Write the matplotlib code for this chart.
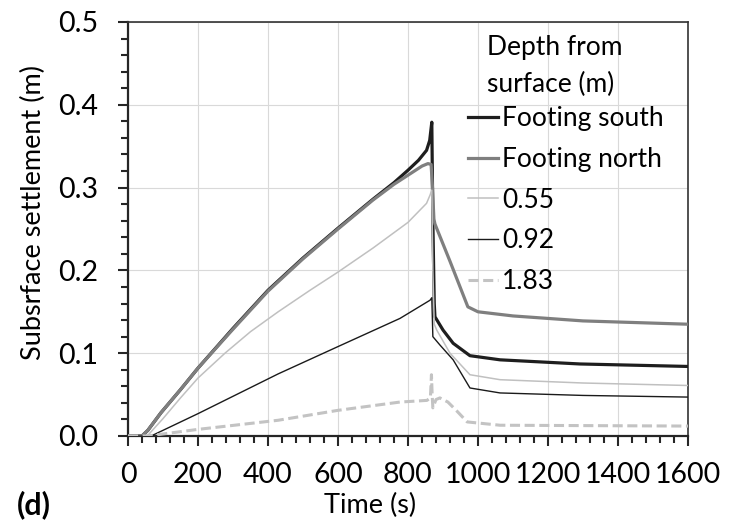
import matplotlib
matplotlib.use("Agg")
import matplotlib.pyplot as plt
from matplotlib.ticker import MultipleLocator

plt.rcParams['font.family'] = ['Lato', 'DejaVu Sans']

# ---- data (time in s, settlement in m) ----
south_t = [0, 40, 57, 94, 150, 200, 300, 400, 500, 600, 700, 760, 800, 830, 853, 862, 868, 871, 875, 877, 900, 929, 977, 1063, 1291, 1600]
south_y = [0, 0, 0.007, 0.028, 0.056, 0.082, 0.130, 0.176, 0.215, 0.251, 0.286, 0.306, 0.321, 0.333, 0.345, 0.357, 0.379, 0.26, 0.16, 0.144, 0.128, 0.112, 0.097, 0.092, 0.087, 0.084]

north_t = [0, 40, 57, 94, 150, 200, 300, 400, 500, 600, 700, 760, 800, 840, 857, 866, 870, 874, 877, 920, 971, 1000, 1100, 1300, 1600]
north_y = [0, 0, 0.007, 0.028, 0.056, 0.082, 0.129, 0.175, 0.214, 0.250, 0.285, 0.304, 0.315, 0.326, 0.329, 0.328, 0.30, 0.262, 0.256, 0.211, 0.156, 0.150, 0.145, 0.139, 0.135]

d055_t = [0, 55, 100, 150, 200, 277, 350, 429, 520, 600, 700, 800, 853, 863, 868, 871, 875, 882, 920, 977, 1063, 1300, 1600]
d055_y = [0, 0, 0.021, 0.046, 0.070, 0.100, 0.126, 0.150, 0.176, 0.198, 0.227, 0.258, 0.281, 0.291, 0.297, 0.20, 0.135, 0.128, 0.100, 0.074, 0.068, 0.064, 0.061]

d092_t = [0, 66, 200, 429, 600, 777, 863, 868, 871, 891, 929, 977, 1063, 1300, 1600]
d092_y = [0, 0, 0.027, 0.075, 0.108, 0.142, 0.164, 0.167, 0.120, 0.110, 0.092, 0.058, 0.052, 0.049, 0.047]

d183_t = [0, 56, 200, 429, 600, 777, 854, 864, 867, 869, 871, 880, 891, 914, 940, 969, 1063, 1600]
d183_y = [0, 0, 0.008, 0.019, 0.031, 0.041, 0.043, 0.046, 0.074, 0.050, 0.034, 0.044, 0.046, 0.041, 0.030, 0.017, 0.013, 0.012]

labels = ["Footing south", "Footing north", "0.55", "0.92", "1.83"]
legend_title = "Depth from\nsurface (m)"
x_ticks = [0, 200, 400, 600, 800, 1000, 1200, 1400, 1600]
y_ticks = [0.0, 0.1, 0.2, 0.3, 0.4, 0.5]

FS_TICK = 20.5
FS_LAB = 19.5
FS_LEG = 19

fig = plt.figure(figsize=(7.4, 5.24), dpi=100)
ax = fig.add_axes([128/740, 1-436/524, 560/740, 414/524])

h1, = ax.plot(south_t, south_y, color='#1e1e1e', lw=2.3, label=labels[0], zorder=3)
h2, = ax.plot(north_t, north_y, color='#7f7f7f', lw=2.3, label=labels[1], zorder=4)
h3, = ax.plot(d055_t, d055_y, color='#c0c0c0', lw=1.1, label=labels[2], zorder=5)
h4, = ax.plot(d092_t, d092_y, color='#1a1a1a', lw=1.0, label=labels[3], zorder=5)
h5, = ax.plot(d183_t, d183_y, color='#c3c3c3', lw=2.2, ls=(0, (3.3, 1.5)), label=labels[4], zorder=5)

ax.set_xlim(0, 1600)
ax.set_ylim(0, 0.5)
ax.set_xticks(x_ticks)
ax.set_yticks(y_ticks)
ax.set_yticklabels([f"{v:.1f}" for v in y_ticks])
ax.xaxis.set_minor_locator(MultipleLocator(40))
ax.yaxis.set_minor_locator(MultipleLocator(0.02))
ax.grid(True, which='major', color='#d9d9d9', lw=0.8, zorder=0)
ax.set_axisbelow(True)

for s in ['left', 'bottom']:
    ax.spines[s].set_linewidth(1.6)
    ax.spines[s].set_color('#262626')
for s in ['top', 'right']:
    ax.spines[s].set_linewidth(1.2)
    ax.spines[s].set_color('#333333')

ax.tick_params(axis='both', which='major', direction='out', length=7.5, width=1.5,
               color='#262626', labelsize=FS_TICK, labelcolor='black')
ax.tick_params(axis='both', which='minor', direction='out', length=5, width=1.5, color='#262626')
ax.tick_params(axis='x', which='major', pad=11)
ax.tick_params(axis='y', which='major', pad=14)

leg = ax.legend(handles=[h1, h2, h3, h4, h5], loc='upper left',
                bbox_to_anchor=((468-128)/560, (436-106)/414),
                frameon=False, fontsize=FS_LEG, borderpad=0, borderaxespad=0,
                handlelength=1.15, handletextpad=0.15, labelspacing=0.6)
ax.text((487-128)/560, (436-66)/414, legend_title, transform=ax.transAxes,
        fontsize=FS_LEG, ha='left', va='center', linespacing=1.62)

fig.text(370/740, 1-505/524, "Time (s)", fontsize=FS_LAB, ha='center', va='center')
fig.text(33/740, 1-213/524, "Subsrface settlement (m)", fontsize=FS_LAB, rotation=90,
         ha='center', va='center')
fig.text(34/740, 1-505/524, "(d)", fontsize=22, fontweight='bold', ha='center', va='center')

fig.savefig("out.png", dpi=100)
